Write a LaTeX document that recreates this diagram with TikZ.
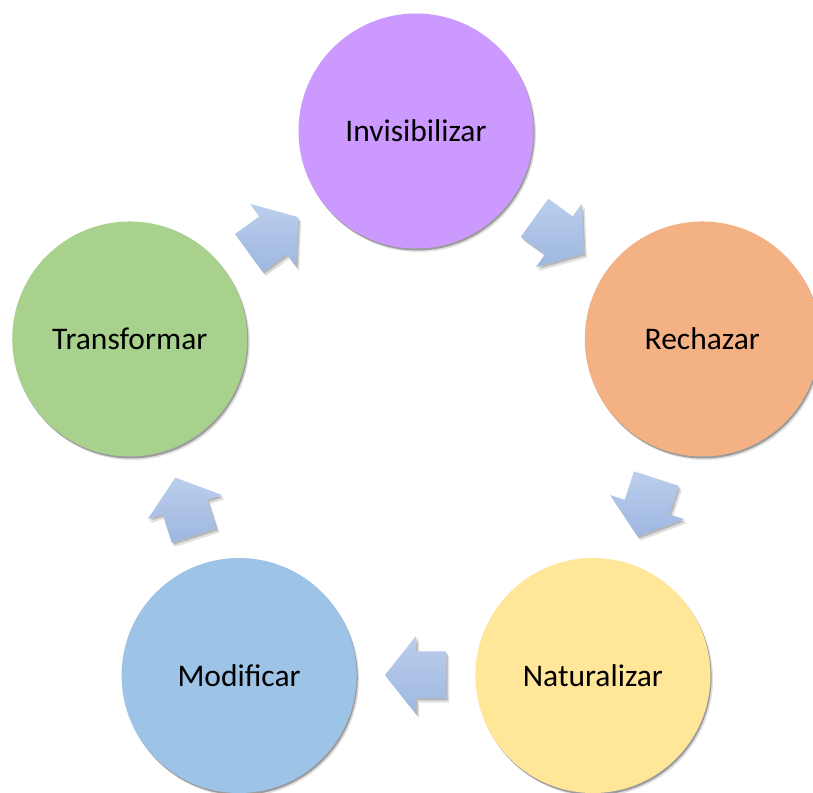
\documentclass[tikz,border=0pt]{standalone}
\usepackage{fontspec}
\setmainfont{Carlito}
\usetikzlibrary{shadows,calc}
\definecolor{cInv}{RGB}{204,153,255}
\definecolor{cRech}{RGB}{244,177,131}
\definecolor{cNat}{RGB}{255,230,153}
\definecolor{cMod}{RGB}{157,195,230}
\definecolor{cTrans}{RGB}{169,209,142}
\definecolor{arrTop}{RGB}{187,206,236}
\definecolor{arrBot}{RGB}{158,183,224}
\tikzset{
  stage/.style={circle, minimum size=235pt, inner sep=0pt,
    font=\fontsize{31.5}{38}\selectfont, text=black,
    drop shadow={shadow xshift=2.5pt, shadow yshift=-3.5pt, opacity=0.12, fill=black},
    drop shadow={shadow xshift=1.2pt, shadow yshift=-2pt, opacity=0.3, fill=black}},
  cyclearrow/.style={top color=arrTop, bottom color=arrBot, draw=none,
    drop shadow={shadow xshift=3pt, shadow yshift=-4pt, opacity=0.12, fill=black},
    drop shadow={shadow xshift=1.5pt, shadow yshift=-2pt, opacity=0.18, fill=black}}
}
\newcommand\blockarrow[2]{%
  \coordinate (#2) at ($(O)+(#1:243pt)$);
  \path[cyclearrow, shift={(#2)}, x={(#1-90:1pt)}, y={(#1:1pt)}]
    (-30,-23.5) -- (0,-23.5) -- (0,-39) -- (31,0) -- (0,39) -- (0,23.5) -- (-30,23.5) -- cycle;
}
\begin{document}
\begin{tikzpicture}[x=1pt,y=1pt]
\useasboundingbox (0,0) rectangle (813,792);
\clip (0,0) rectangle (813,792);
\fill[white] (0,0) rectangle (813,792);
\coordinate (O) at (416,360);
\node[stage, fill=cInv]   (inv)   at ($(O)+(90:301pt)$)   {Invisibilizar};
\node[stage, fill=cRech]  (rech)  at ($(O)+(18:301pt)$)   {Rechazar};
\node[stage, fill=cNat]   (nat)   at ($(O)+(-54:301pt)$)  {Naturalizar};
\node[stage, fill=cMod]   (mod)   at ($(O)+(-126:301pt)$) {Modificar};
\node[stage, fill=cTrans] (trans) at ($(O)+(162:301pt)$)  {Transformar};
\blockarrow{54}{a1}
\blockarrow{-18}{a2}
\blockarrow{-90}{a3}
\blockarrow{-162}{a4}
\blockarrow{126}{a5}
\end{tikzpicture}
\end{document}
